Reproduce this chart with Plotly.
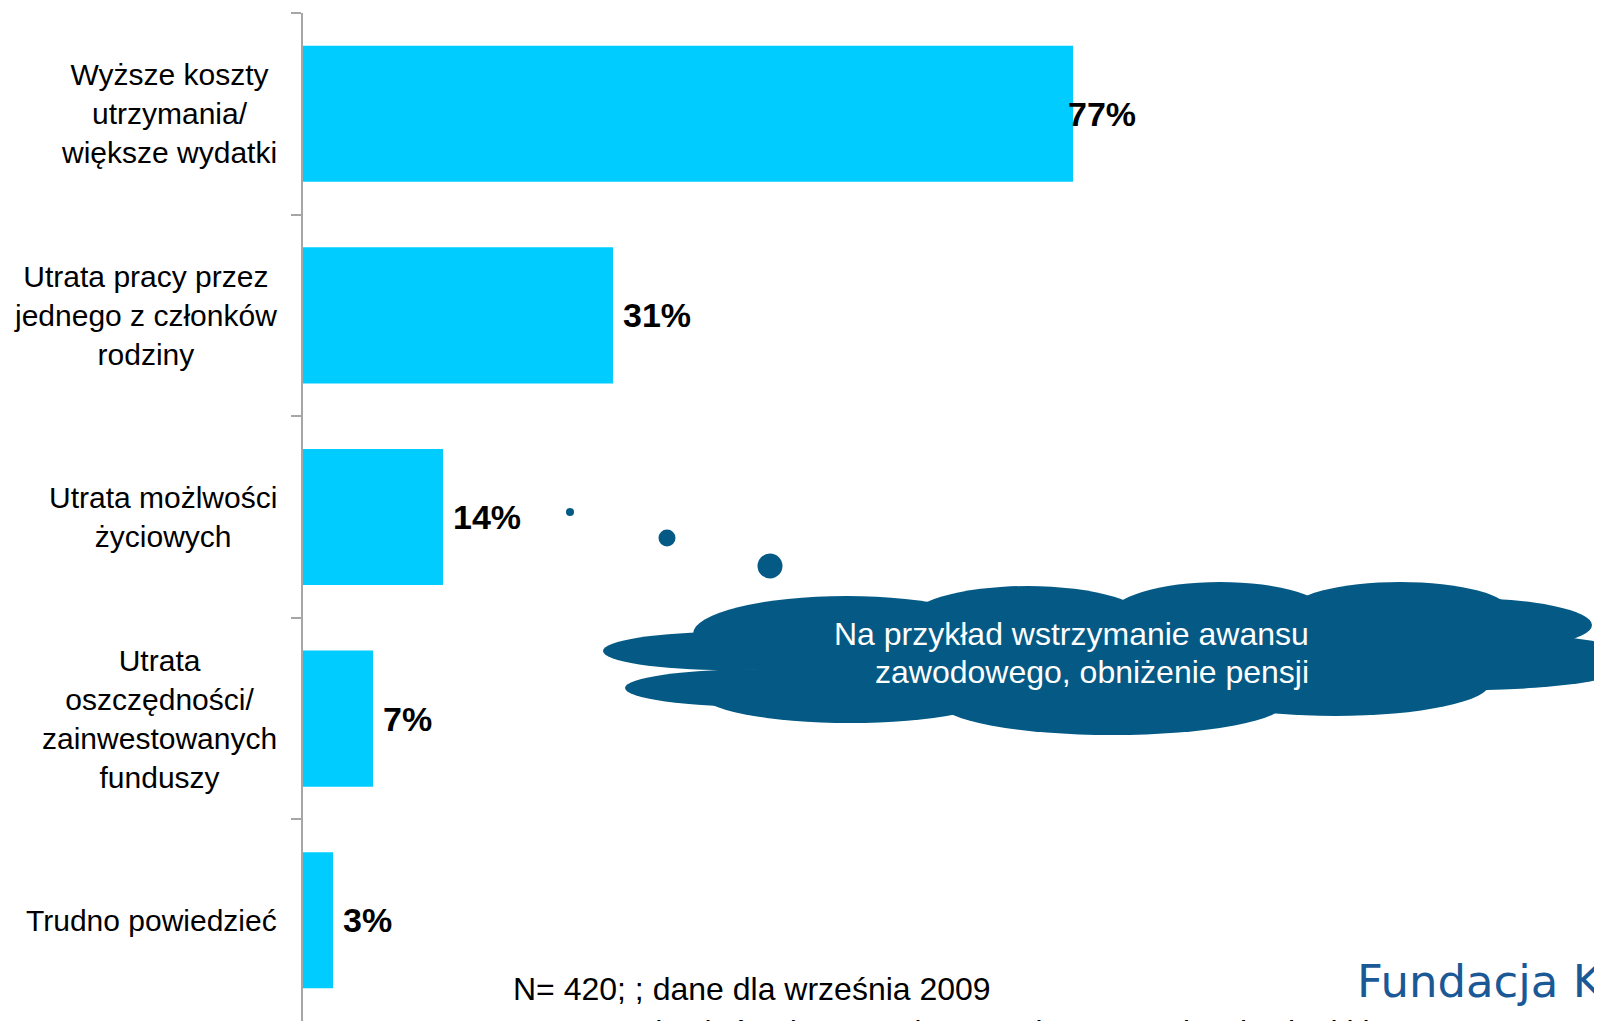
import plotly.graph_objects as go

# ---------------- data ----------------
categories = [
    "Wyższe koszty<br>utrzymania/<br>większe wydatki",
    "Utrata pracy przez<br>jednego z członków<br>rodziny",
    "Utrata możlwości<br>życiowych",
    "Utrata<br>oszczędności/<br>zainwestowanych<br>funduszy",
    "Trudno powiedzieć",
]
values = [77, 31, 14, 7, 3]
value_labels = [f"{v}%" for v in values]

cloud_lines = ["Na przykład wstrzymanie awansu", "zawodowego, obniżenie pensji"]
footnote = "N= 420; ; dane dla września 2009"
base_note = "Baza: osoby, których gospodarstwa domowe odczuły skutki kryzysu"
logo_text = "Fundacja Kronenberga"

# ---------------- styles / layout ----------------
OFF = 8                      # page body margin in the browser
W, H = 1602 - OFF, 1021 - OFF
L, R, T, B = 303 - OFF, 0, 13 - OFF, 0
BAR = "#00CCFF"
CLOUD = "#045A85"
AXIS = "#A6A6A6"
FONT = "Arial, Liberation Sans, sans-serif"
label_shift = [-7, 8, 8, 8, 8]
cloud_line_y = [634, 672]

PW = W - L - R
PH = H - T - B


def px(x):
    """reference-page x pixel -> paper coordinate"""
    return (x - OFF - L) / PW


def py(y):
    """reference-page y pixel -> paper coordinate"""
    return (H - B - (y - OFF)) / PH


fig = go.Figure()
fig.add_trace(go.Bar(
    x=values, y=categories, orientation="h",
    marker=dict(color=BAR, line=dict(width=0)),
    width=0.675, hoverinfo="skip",
))

annotations = []
for c in categories:
    annotations.append(dict(
        x=0, xref="paper", y=c, yref="y", xanchor="right", yanchor="middle",
        xshift=-24, text=c, showarrow=False, align="center",
        font=dict(family=FONT, size=30, color="#000000"),
    ))
for c, v, lab, s in zip(categories, values, value_labels, label_shift):
    annotations.append(dict(
        x=v, xref="x", y=c, yref="y", xanchor="left", yanchor="middle",
        xshift=s, text=f"<b>{lab}</b>", showarrow=False,
        font=dict(family=FONT, size=34, color="#000000"),
    ))
for line, ly in zip(cloud_lines, cloud_line_y):
    annotations.append(dict(
        x=px(1311), xref="paper", y=py(ly), yref="paper", xanchor="right", yanchor="middle",
        text=line, showarrow=False,
        font=dict(family=FONT, size=32, color="#FFFFFF"),
    ))
annotations.append(dict(
    x=px(511), xref="paper", y=py(989), yref="paper", xanchor="left", yanchor="middle",
    text=footnote, showarrow=False,
    font=dict(family=FONT, size=32, color="#000000"),
))
annotations.append(dict(
    x=px(511), xref="paper", y=py(1032), yref="paper", xanchor="left", yanchor="middle",
    text="<span style='color:#4A7096'>" + base_note[:5] + "</span>" + base_note[5:],
    showarrow=False,
    font=dict(family=FONT, size=32, color="#000000"),
))
annotations.append(dict(
    x=px(1355), xref="paper", y=py(981), yref="paper", xanchor="left", yanchor="middle",
    text=logo_text, showarrow=False,
    font=dict(family="DejaVu Sans, Verdana, sans-serif", size=45, color="#1B5896"),
))

# cloud made of ellipses (reference pixel boxes)
cloud_boxes = [
    (760, 615, 1470, 690, "rect"),
    (693, 596, 1000, 672, "circle"),
    (905, 586, 1150, 660, "circle"),
    (1110, 582, 1330, 650, "circle"),
    (1290, 582, 1510, 640, "circle"),
    (1330, 598, 1592, 652, "circle"),
    (1300, 632, 1640, 690, "circle"),
    (1180, 650, 1490, 716, "circle"),
    (940, 670, 1285, 735, "circle"),
    (700, 663, 1000, 723, "circle"),
    (603, 632, 850, 670, "circle"),
    (625, 669, 900, 707, "circle"),
]
bubbles = [(570, 512, 4), (667, 538, 8.5), (770, 566, 12.5)]

shapes = []
for x0, y0, x1, y1, kind in cloud_boxes:
    shapes.append(dict(
        type=kind, xref="paper", yref="paper",
        x0=px(x0), x1=px(x1), y0=py(y1), y1=py(y0),
        fillcolor=CLOUD, line=dict(width=0), layer="above",
    ))
for cx, cy, r in bubbles:
    shapes.append(dict(
        type="circle", xref="paper", yref="paper",
        x0=px(cx - r), x1=px(cx + r), y0=py(cy + r), y1=py(cy - r),
        fillcolor=CLOUD, line=dict(width=0), layer="above",
    ))

fig.update_layout(
    width=W, height=H,
    margin=dict(l=L, r=R, t=T, b=B, pad=0),
    paper_bgcolor="#FFFFFF", plot_bgcolor="#FFFFFF",
    showlegend=False,
    xaxis=dict(range=[0, PW / 10], visible=False, showgrid=False, zeroline=False),
    yaxis=dict(
        type="category", categoryorder="array", categoryarray=categories,
        autorange="reversed", showticklabels=False, showgrid=False, zeroline=False,
        ticks="outside", tickson="boundaries", ticklen=10, tickwidth=2, tickcolor=AXIS,
        showline=True, linecolor=AXIS, linewidth=2,
    ),
    annotations=annotations,
    shapes=shapes,
    font=dict(family=FONT),
)

fig.write_html("out.html")
